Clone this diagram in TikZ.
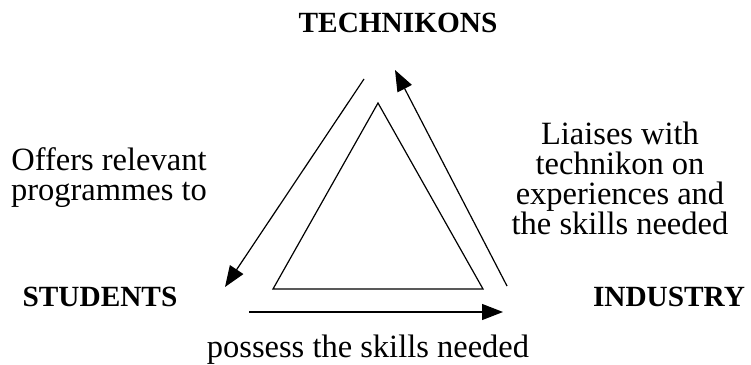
\documentclass[tikz,border=0pt]{standalone}
\usepackage{fontspec}
\setmainfont{Liberation Serif}
\usetikzlibrary{arrows.meta}

\tikzset{
    party/.style={font=\fontsize{29.3}{30}\selectfont\bfseries, inner sep=0pt},
    role/.style={font=\fontsize{32.5}{30}\selectfont, align=center, inner sep=0pt},
    flow/.style={line width=1.2pt, -{Triangle[length=21pt,width=16pt]}}
}

\begin{document}
\begin{tikzpicture}[x=1pt, y=-1pt]
    \useasboundingbox (0,0) rectangle (751,364);

    % 1. TRIANGULO CENTRAL
    \coordinate (apex) at (378,103);
    \coordinate (bl) at (273,289);
    \coordinate (br) at (483,289);
    \draw[line width=1.2pt] (apex) -- (bl) -- (br) -- cycle;

    % 2. EXTREMOS DE LAS FLECHAS
    \coordinate (techOut) at (364,79);
    \coordinate (studIn) at (225,287);
    \coordinate (studOut) at (249,312);
    \coordinate (indIn) at (503,312);
    \coordinate (indOut) at (507,286);
    \coordinate (techIn) at (395,70);

    % 3. FLECHAS DEL CICLO
    \draw[flow] (techOut) -- (studIn);
    \draw[flow] (studOut) -- (indIn);
    \draw[flow] (indOut) -- (techIn);

    % 4. ACTORES
    \node[party] (tech) at (398,23) {TECHNIKONS};
    \node[party] (stud) at (100,297) {STUDENTS};
    \node[party] (ind) at (669,297) {INDUSTRY};

    % 5. ROLES
    \node[role] (offers) at (109,178) {Offers relevant\\programmes to};
    \node[role] (liaises) at (620,178) {Liaises with\\technikon on\\experiences and\\the skills needed};
    \node[role] (possess) at (368,350) {possess the skills needed};

\end{tikzpicture}
\end{document}
